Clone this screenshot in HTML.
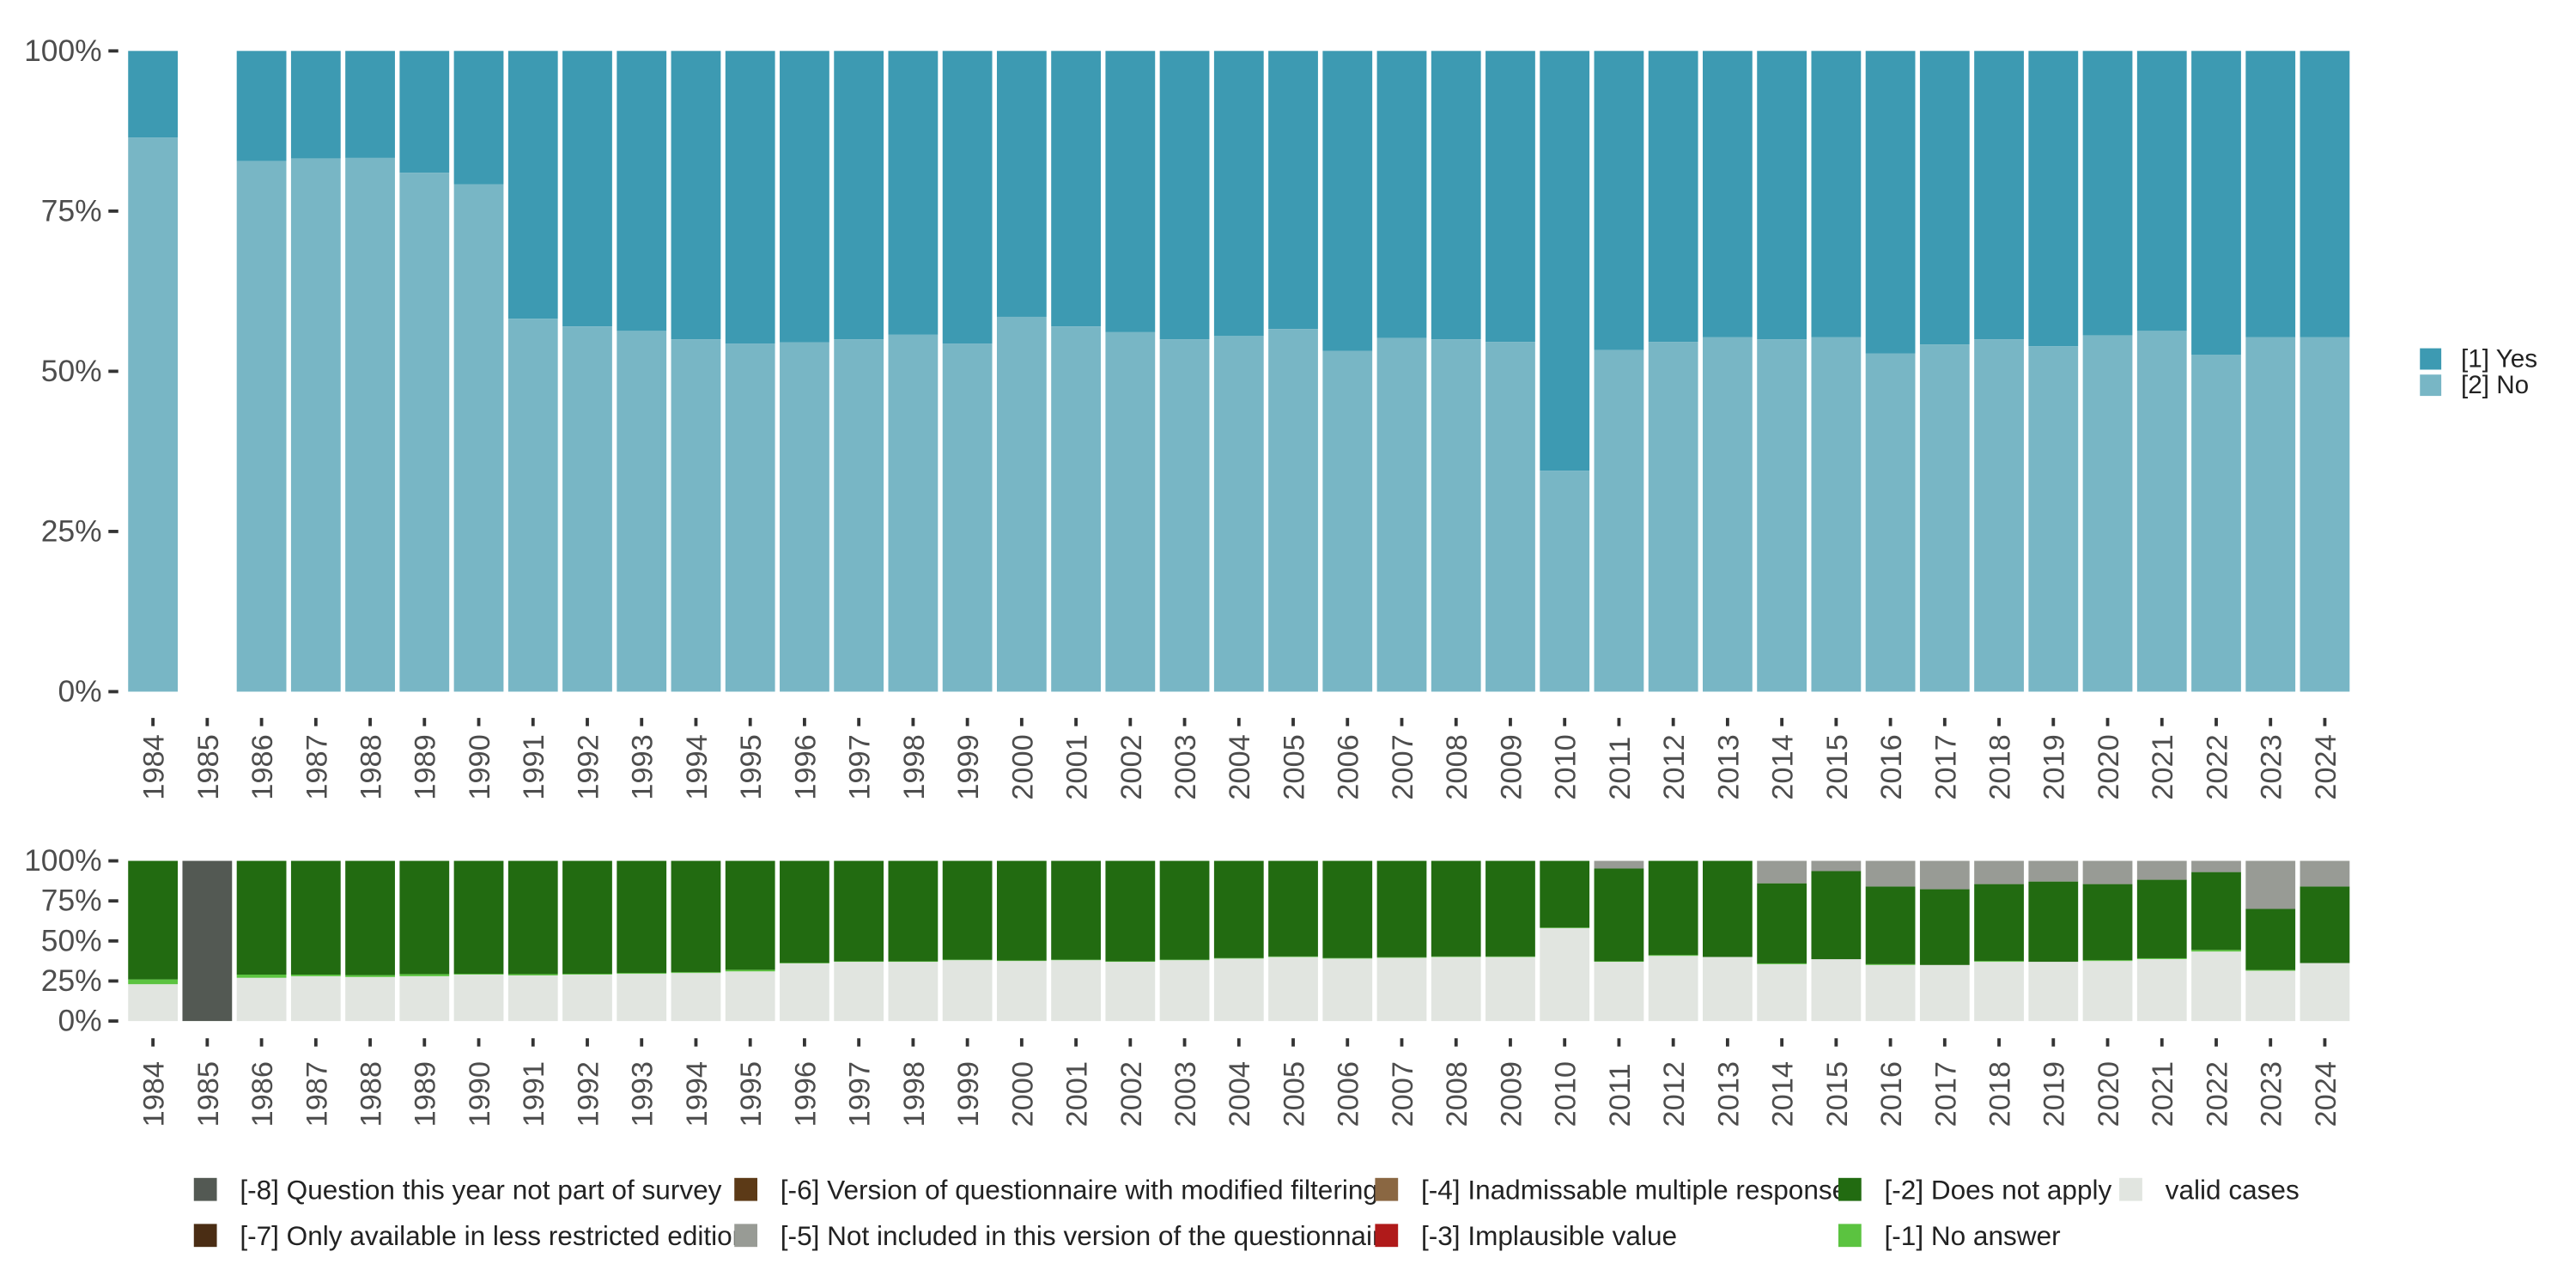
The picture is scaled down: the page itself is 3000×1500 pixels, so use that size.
<!DOCTYPE html>
<html><head><meta charset="utf-8"><style>
html,body{margin:0;padding:0;background:#fff;}
svg{display:block;font-family:"Liberation Sans",sans-serif;}
</style></head><body>
<svg id="chart" width="3000" height="1500" viewBox="0 0 1568 784" xmlns="http://www.w3.org/2000/svg">
<g id="topPanel"></g>
<g id="botPanel"></g>
<g id="legPanel"></g>
</svg>
<script>
const years = [];
for (let y = 1984; y <= 2024; y++) years.push(y);
const noShare = [86.5,null,82.8,83.2,83.3,81,79.2,58.2,57,56.3,55,54.3,54.5,55,55.7,54.3,58.5,57,56.1,55,55.5,56.6,53.2,55.2,55,54.6,34.5,53.3,54.6,55.3,55,55.3,52.8,54.2,55,53.9,55.6,56.3,52.6,55.3,55.3];
const validCases = [23,0,27,28,27.5,28,29,28.5,29,29.5,30,31,36,37,37,38,37.5,38,37,38,39,40,39,39.5,40,40,58,37,40.7,40,35.5,38.6,35,35,37,37,37.5,38.7,43.4,31.4,36.2];
const noAnswer = [3,0,2,1,1.2,1.3,0.5,0.8,0.5,0.5,0.5,1,0.3,0.3,0.3,0.3,0.3,0.3,0.3,0.3,0.3,0.3,0.3,0.3,0.3,0.3,0.3,0.3,0.5,0,0.5,0,0.5,0,0.5,0,0.5,0.5,1,0.5,0];
const notIncluded = [0,0,0,0,0,0,0,0,0,0,0,0,0,0,0,0,0,0,0,0,0,0,0,0,0,0,0,4.8,0,0,14,6.4,16,17.7,14.5,12.9,14.5,11.8,7,30,16];
const notInSurvey = [0,100,0,0,0,0,0,0,0,0,0,0,0,0,0,0,0,0,0,0,0,0,0,0,0,0,0,0,0,0,0,0,0,0,0,0,0,0,0,0,0];
const yTicks = [0,25,50,75,100];
const yTickLabels = ["0%","25%","50%","75%","100%"];

const SVGNS='http://www.w3.org/2000/svg';
function mk(parent, tag, attrs, text){const e=document.createElementNS(SVGNS,tag);for(const k in attrs)e.setAttribute(k,attrs[k]);if(text!==undefined)e.textContent=text;parent.appendChild(e);return e;}
const xLeft=78, step=33.05, bw=30.2;
function xS(i){return xLeft+i*step;}
function yTopS(v){return 421-v*3.9;}
function yBotS(v){return 621.5-v*0.975;}

function axes(g, yf, tickY, labY){
  yTicks.forEach((t,i)=>{
    const tl=mk(g,'line',{x1:66,x2:72,y1:yf(t),y2:yf(t),stroke:'#333','stroke-width':2});
    
    
    const tx=mk(g,'text',{x:62,y:yf(t)+6,'text-anchor':'end','font-size':18.5,fill:'#4d4d4d'},yTickLabels[i]);
    
    
  });
  years.forEach((yr,i)=>{
    const cx=xS(i)+bw/2;
    const tl=mk(g,'line',{x1:cx,x2:cx,y1:tickY,y2:tickY+5,stroke:'#333','stroke-width':2});
    
    
    const tx=mk(g,'text',{x:0,y:0,transform:`translate(${cx+6.5},${labY}) rotate(-90)`,'font-size':18,fill:'#4d4d4d'},String(yr));
    
    
  });
}
const topG=document.getElementById('topPanel');
years.forEach((yr,i)=>{
  if(noShare[i]===null) return;
  const x=xS(i);
  const a=mk(topG,'rect',{x:x,width:bw,y:yTopS(100),height:yTopS(noShare[i])-yTopS(100),fill:'#3d9ab2'});
  
  
  const b=mk(topG,'rect',{x:x,width:bw,y:yTopS(noShare[i]),height:yTopS(0)-yTopS(noShare[i]),fill:'#78b6c5'});
  
  
});
axes(topG,yTopS,437,487);

const botG=document.getElementById('botPanel');
years.forEach((yr,i)=>{
  const x=xS(i);
  const dna=Math.max(0,100-validCases[i]-noAnswer[i]-notIncluded[i]-notInSurvey[i]);
  const segs=[['valid',validCases[i],'#e1e5e0'],['no-answer',noAnswer[i],'#5bc340'],['does-not-apply',dna,'#226b11'],['not-included',notIncluded[i],'#989b95'],['not-in-survey',notInSurvey[i],'#535953']];
  let c=0;
  segs.forEach(s=>{
    if(s[1]<=0) return;
    const r=mk(botG,'rect',{x:x,width:bw,y:yBotS(c+s[1]),height:yBotS(c)-yBotS(c+s[1]),fill:s[2]});
    
    
    c+=s[1];
  });
});
axes(botG,yBotS,632,686);

const legG=document.getElementById('legPanel');
const topLeg=[['[1] Yes','#3d9ab2',218],['[2] No','#78b6c5',234]];
topLeg.forEach(l=>{
  const r=mk(legG,'rect',{x:1473,y:l[2]-6,width:13,height:13,fill:l[1]});
  
  
  const t=mk(legG,'text',{x:1498,y:l[2]+5.5,'font-size':15.5,fill:'#222'},l[0]);
  
  
});
const botLeg=[
 ['[-8] Question this year not part of survey','#535953',118,724],
 ['[-7] Only available in less restricted edition','#4a2d14',118,752],
 ['[-6] Version of questionnaire with modified filtering','#5c3a17',447,724],
 ['[-5] Not included in this version of the questionnaire','#989b95',447,752],
 ['[-4] Inadmissable multiple response','#8a6742',837,724],
 ['[-3] Implausible value','#b01a1a',837,752],
 ['[-2] Does not apply','#226b11',1119,724],
 ['[-1] No answer','#5bc340',1119,752],
 ['valid cases','#e1e5e0',1290,724]
];
botLeg.forEach(l=>{
  const r=mk(legG,'rect',{x:l[2],y:l[3]-7,width:14,height:14,fill:l[1]});
  
  
  const t=mk(legG,'text',{x:l[2]+28,y:l[3]+6,'font-size':16.5,fill:'#222'},l[0]);
  
  
});
</script>
</body></html>
